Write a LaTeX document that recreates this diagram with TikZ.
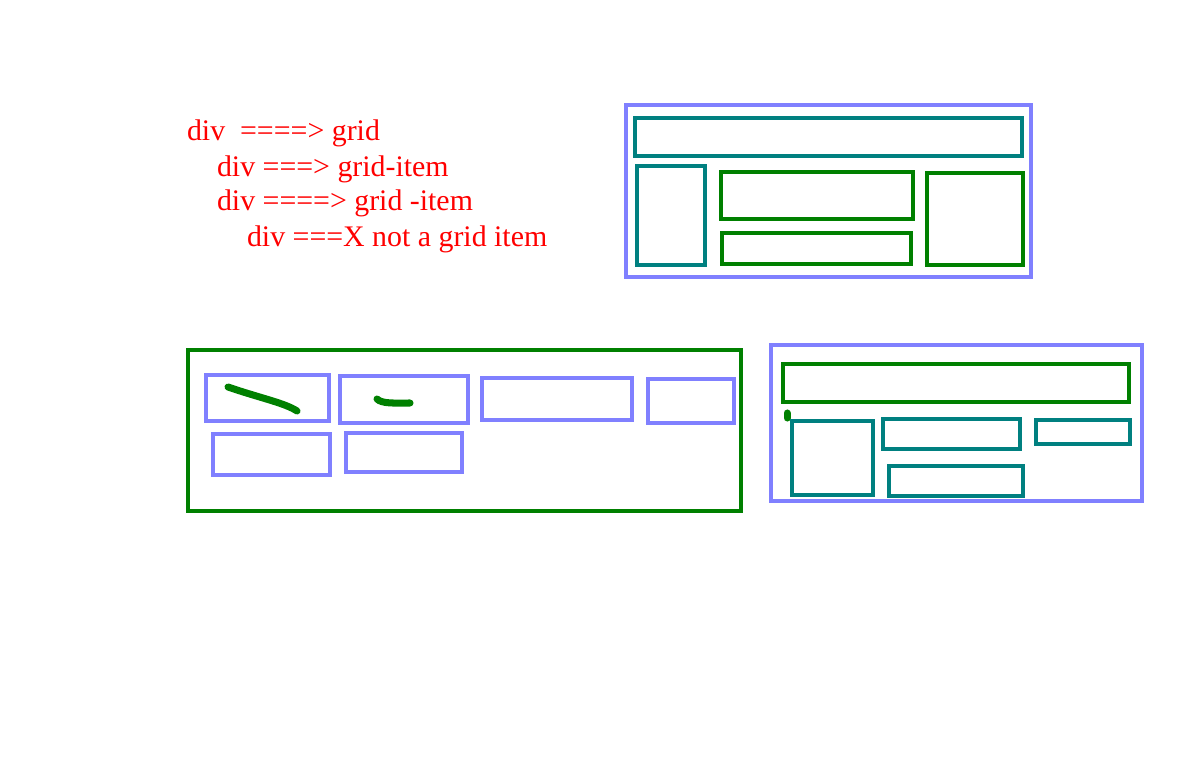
\documentclass[tikz,border=0pt]{standalone}
\usepackage{fontspec}
\setmainfont{Liberation Serif}
\definecolor{gridblue}{HTML}{8080FF}
\definecolor{gridteal}{HTML}{008080}
\definecolor{gridgreen}{HTML}{008000}
\begin{document}
\begin{tikzpicture}[x=0.02cm, y=-0.02cm, line width=2.3pt,
    bluebox/.style={draw=gridblue},
    tealbox/.style={draw=gridteal},
    greenbox/.style={draw=gridgreen},
    scribble/.style={draw=gridgreen, line width=4pt, line cap=round},
    note/.style={text=red, anchor=base west, inner sep=0pt, font=\fontsize{17}{20}\selectfont}]
    \useasboundingbox (0,0) rectangle (1182,760);
    % Notes
    \node[note] (grid) at (185,141) {div\ \ ====> grid};
    \node[note] (itemA) at (215,176) {div ===> grid-item};
    \node[note] (itemB) at (215,211) {div ====> grid -item};
    \node[note] (noitem) at (245,246) {div ===X not a grid item};
    % Top layout
    \draw[bluebox] (626,105) rectangle (1031,277);
    \draw[tealbox] (635,118) rectangle (1022,156);
    \draw[tealbox] (637,166) rectangle (705,265);
    \draw[greenbox] (721,172) rectangle (913,219);
    \draw[greenbox] (722,233) rectangle (911,264);
    \draw[greenbox] (927,173) rectangle (1023,265);
    % Bottom left layout
    \draw[greenbox] (188,350) rectangle (741,511);
    \draw[bluebox] (206,375) rectangle (329,421);
    \draw[bluebox] (340,376) rectangle (468,423);
    \draw[bluebox] (482,378) rectangle (632,420);
    \draw[bluebox] (648,379) rectangle (734,423);
    \draw[bluebox] (213,434) rectangle (330,475);
    \draw[bluebox] (346,433) rectangle (462,472);
    \draw[scribble] (228,387) .. controls (260,398) and (285,403) .. (297,411);
    \draw[scribble] (377,399) .. controls (382,404) and (395,403) .. (410,403);
    % Bottom right layout
    \draw[bluebox] (771,345) rectangle (1142,501);
    \draw[greenbox] (783,364) rectangle (1129,402);
    \draw[scribble] (787,413) -- (787,418);
    \draw[tealbox] (792,421) rectangle (873,495);
    \draw[tealbox] (883,419) rectangle (1020,449);
    \draw[tealbox] (1036,420) rectangle (1130,444);
    \draw[tealbox] (889,466) rectangle (1023,496);
\end{tikzpicture}
\end{document}
